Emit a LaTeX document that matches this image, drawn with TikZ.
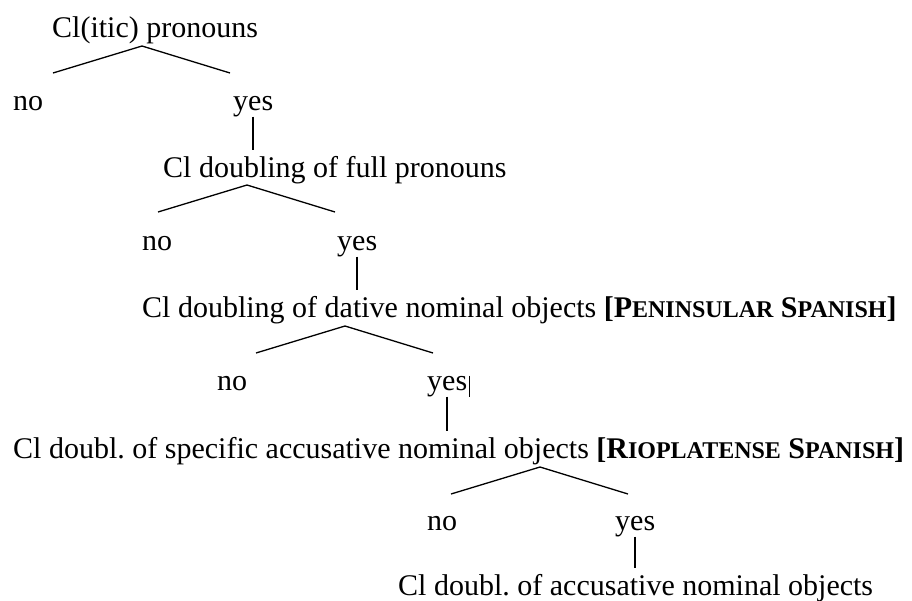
\documentclass[tikz,border=0pt]{standalone}
\usepackage{fontspec}
\setmainfont{Liberation Serif}
\usetikzlibrary{calc}
\frenchspacing
\newcommand{\fsc}[1]{{\fontsize{24}{28}\selectfont #1}}
\tikzset{
  lbl/.style={inner sep=0pt, anchor=base west, font=\fontsize{30}{36}\selectfont},
  br/.style={line width=1.3pt},
  stem/.style={line width=2pt, shorten >=6pt},
  caret/.style={line width=0.8pt},
}

\begin{document}
\begin{tikzpicture}[x=1pt, y=-1pt]
  \useasboundingbox (0,0) rectangle (912,600);
  % properties
  \node[lbl] (q1) at (52,37) {Cl(itic) pronouns};
  \node[lbl] (q2) at (163,177) {Cl doubling of full pronouns};
  \node[lbl] (q3) at (142,317) {Cl doubling of dative nominal objects \textbf{[P\fsc{ENINSULAR} S\fsc{PANISH}]}};
  \node[lbl] (q4) at (13,458) {Cl doubl. of specific accusative nominal objects \textbf{[R\fsc{IOPLATENSE} S\fsc{PANISH}]}};
  \node[lbl] (q5) at (398,595) {Cl doubl. of accusative nominal objects};
  % answers
  \node[lbl] (n1) at (13,110) {no};
  \node[lbl] (y1) at (233,110) {yes};
  \node[lbl] (n2) at (142,250) {no};
  \node[lbl] (y2) at (337,250) {yes};
  \node[lbl] (n3) at (217,390) {no};
  \node[lbl] (y3) at (427,390) {yes};
  \node[lbl] (n4) at (427,530) {no};
  \node[lbl] (y4) at (615,530) {yes};
  % forks
  \foreach \k/\x/\y in {1/142/46, 2/247/185, 3/345/326, 4/540/467}{
    \coordinate (t\k) at (\x,\y);
    \coordinate (a\k) at ($(t\k)+(-89,27)$);
    \coordinate (b\k) at ($(t\k)+(88,27)$);
    \draw[br] (a\k) -- (t\k) -- (b\k);}
  % stems
  \draw[stem] (y1.south) -- (y1.south |- q2.north);
  \draw[stem] (y2.south) -- (y2.south |- q3.north);
  \draw[stem] (y3.south) -- (y3.south |- q4.north);
  \draw[stem] (y4.south) -- (y4.south |- q5.north);
  \draw[caret] ([xshift=2pt]y3.north east) -- ([xshift=2pt]y3.south east);
\end{tikzpicture}
\end{document}
